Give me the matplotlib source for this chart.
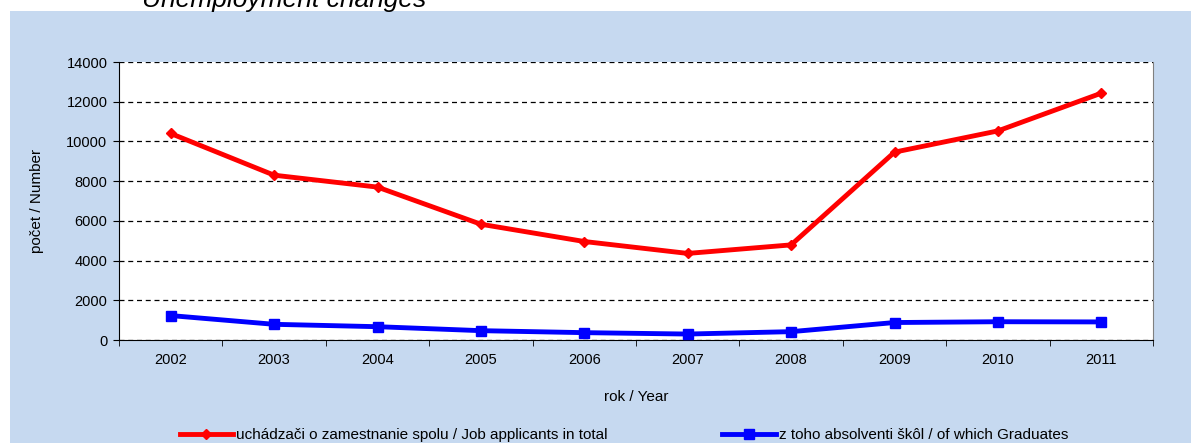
import numpy as np
import matplotlib.pyplot as plt
from matplotlib.patches import Rectangle

plt.rcParams['font.family'] = ['Liberation Sans', 'DejaVu Sans']

years = ['2002', '2003', '2004', '2005', '2006', '2007', '2008', '2009', '2010', '2011']
applicants = [10400, 8300, 7700, 5830, 4960, 4360, 4790, 9460, 10530, 12430]
graduates = [1230, 790, 670, 470, 370, 300, 420, 880, 920, 910]

label_total = 'uchádzači o zamestnanie spolu / Job applicants in total'
label_grad = 'z toho absolventi škôl / of which Graduates'

W, H = 1191, 443
fig = plt.figure(figsize=(W / 100, H / 100), dpi=100)

# light blue panel behind the chart
fig.patches.append(Rectangle((10 / W, 0), 1 - 10 / W, (H - 11) / H,
                             transform=fig.transFigure, facecolor='#C6D9F0',
                             edgecolor='none', zorder=-5))
fig.text(142 / W, (H - 7) / H, 'Unemployment changes', fontsize=19,
         style='italic', ha='left', va='baseline')

ax = fig.add_axes([119 / W, (H - 340) / H, (1153 - 119) / W, (340 - 62) / H])
ax.set_facecolor('white')
x = np.arange(len(years))

ax.plot(x, applicants, color='#FF0000', lw=3.5, marker='D', ms=5,
        label=label_total, zorder=3)
ax.plot(x, graduates, color='#0000FF', lw=3.5, marker='s', ms=7,
        label=label_grad, zorder=3)

ax.set_xlim(-0.5, len(years) - 0.5)
ax.set_ylim(0, 14000)
ax.set_yticks(np.arange(0, 14001, 2000))
ax.yaxis.grid(True, color='black', ls=(0, (4, 3)), lw=0.9)
ax.set_axisbelow(True)

ax.set_xticks(x)
ax.set_xticklabels(years)
ax.set_xticks(np.arange(-0.5, len(years), 1), minor=True)
ax.tick_params(axis='x', which='major', length=0, pad=9, labelsize=10.5)
ax.tick_params(axis='x', which='minor', length=4, color='black')
ax.tick_params(axis='y', length=4.3, labelsize=10.5, pad=4)

ax.spines['top'].set_visible(False)
ax.spines['right'].set_color('#808080')
ax.spines['left'].set_color('black')
ax.spines['bottom'].set_color('black')

ax.set_ylabel('počet / Number', fontsize=11, va='center')
ax.yaxis.set_label_coords((37 - 119) / 1034, 0.5)
ax.set_xlabel('rok / Year', fontsize=11, va='center')
ax.xaxis.set_label_coords(0.5, (340 - 397) / 278)

h, l = ax.get_legend_handles_labels()
fig.legend(h, l, loc='center', bbox_to_anchor=(624 / W, (H - 435) / H), ncol=2,
           frameon=False, fontsize=11, columnspacing=7.5, handlelength=3.5,
           handletextpad=0.2)

fig.savefig('out.png', dpi=100)
